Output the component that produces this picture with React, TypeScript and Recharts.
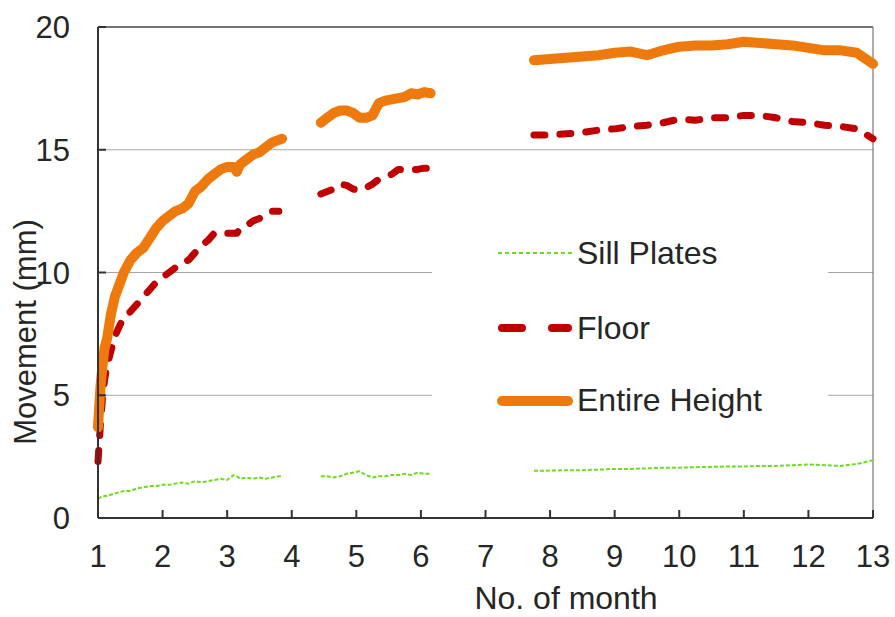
import React from 'react';
import { LineChart, Line, XAxis, YAxis, CartesianGrid, ReferenceLine, Label } from 'recharts';

// months where readings were taken (nulls split the three recording periods)
const months = [
  1, 1.02, 1.04, 1.07, 1.1, 1.14, 1.2, 1.26, 1.33, 1.4, 1.5, 1.6, 1.7, 1.8, 1.9,
  2.0, 2.1, 2.2, 2.3, 2.4, 2.5, 2.6, 2.7, 2.8, 2.9, 3.0, 3.1, 3.15, 3.2, 3.3, 3.4,
  3.5, 3.6, 3.7, 3.8, 3.85,
  4.1,
  4.45, 4.55, 4.65, 4.75, 4.85, 4.95, 5.05, 5.15, 5.25, 5.35, 5.45, 5.55, 5.65,
  5.75, 5.85, 5.95, 6.05, 6.15,
  7.0,
  7.75, 8.0, 8.25, 8.5, 8.75, 9.0, 9.25, 9.5, 9.75, 10.0, 10.25, 10.5, 10.75,
  11.0, 11.25, 11.5, 11.75, 12.0, 12.25, 12.5, 12.75, 13.0,
];

const sillPlates = [
  0.8, 0.8, 0.85, 0.85, 0.9, 0.9, 0.95, 1.0, 1.05, 1.1, 1.1, 1.2, 1.25, 1.3, 1.3,
  1.35, 1.35, 1.4, 1.45, 1.4, 1.5, 1.45, 1.5, 1.55, 1.6, 1.55, 1.75, 1.7, 1.6, 1.65, 1.6,
  1.65, 1.6, 1.65, 1.7, 1.7,
  null,
  1.7, 1.7, 1.65, 1.7, 1.8, 1.85, 1.9, 1.75, 1.65, 1.7, 1.7, 1.75, 1.75,
  1.8, 1.75, 1.85, 1.8, 1.8,
  null,
  1.92, 1.93, 1.95, 1.95, 1.97, 2.0, 2.0, 2.02, 2.05, 2.05, 2.07, 2.08, 2.1,
  2.1, 2.12, 2.12, 2.15, 2.18, 2.15, 2.12, 2.2, 2.35,
];

const floor = [
  2.3, 3.1, 3.9, 4.9, 5.6, 6.2, 6.8, 7.4, 7.8, 8.2, 8.4, 8.7, 9.0, 9.3, 9.6,
  9.8, 10.0, 10.2, 10.4, 10.5, 10.8, 11.1, 11.3, 11.6, 11.6, 11.6, 11.6, 11.6, 11.8, 11.9, 12.1,
  12.2, 12.4, 12.5, 12.5, null,
  null,
  13.2, 13.3, 13.4, 13.6, 13.55, 13.4, 13.35, 13.45, 13.6, 13.8, 13.9, 14.0, 14.2,
  14.2, 14.2, 14.2, 14.25, 14.25,
  null,
  15.6, 15.6, 15.65, 15.7, 15.8, 15.85, 15.95, 16.0, 16.1, 16.25, 16.2, 16.3, 16.3,
  16.4, 16.4, 16.3, 16.15, 16.1, 16.0, 15.95, 15.85, 15.45,
];

const entireHeight = [
  3.7, 4.6, 5.4, 6.2, 6.9, 7.3, 8.3, 9.0, 9.5, 10.0, 10.5, 10.8, 11.0, 11.4, 11.8,
  12.1, 12.3, 12.5, 12.6, 12.8, 13.3, 13.5, 13.8, 14.0, 14.2, 14.3, 14.3, 14.1, 14.4, 14.6, 14.8,
  14.9, 15.1, 15.3, 15.4, 15.45,
  null,
  16.1, 16.3, 16.5, 16.6, 16.6, 16.5, 16.3, 16.3, 16.4, 16.9, 17.0, 17.05, 17.1,
  17.15, 17.3, 17.25, 17.35, 17.3,
  null,
  18.65, 18.7, 18.75, 18.8, 18.85, 18.95, 19.0, 18.85, 19.05, 19.2, 19.25, 19.25, 19.3,
  19.4, 19.35, 19.3, 19.25, 19.15, 19.05, 19.05, 18.95, 18.5,
];

const monthTicks = [1, 2, 3, 4, 5, 6, 7, 8, 9, 10, 11, 12, 13];
const movementTicks = [0, 5, 10, 15, 20];

const data = months.map((m, i) => ({
  month: m,
  sill: sillPlates[i],
  floor: floor[i],
  entire: entireHeight[i],
}));

const FONT = '"Liberation Sans", Arial, sans-serif';
const TEXT = '#262626';

const LegendBox = () => (
  <div style={{ position: 'absolute', left: 432, top: 225, width: 396, height: 200, background: '#fff' }}>
    <svg width={396} height={200} style={{ fontFamily: FONT }}>
      <line x1={66} x2={140} y1={28} y2={28} stroke="#6EDC1E" strokeWidth={2} strokeDasharray="4 3" />
      <text x={145} y={28} fontSize={32} fill={TEXT} dominantBaseline="central">Sill Plates</text>
      <line x1={70} x2={136} y1={103} y2={103} stroke="#C00000" strokeWidth={8} strokeLinecap="round" strokeDasharray="20 30" />
      <text x={145} y={103} fontSize={32} fill={TEXT} dominantBaseline="central">Floor</text>
      <line x1={70} x2={136} y1={176} y2={176} stroke="#EE7A0E" strokeWidth={10} strokeLinecap="round" />
      <text x={145} y={175} fontSize={32} fill={TEXT} dominantBaseline="central">Entire Height</text>
    </svg>
  </div>
);

export default function App() {
  return (
    <div style={{ position: 'absolute', left: 0, top: 0, width: 895, height: 617, background: '#fff', fontFamily: FONT }}>
      <LineChart width={895} height={617} data={data} margin={{ top: 27, right: 22, left: 0, bottom: 0 }}>
        <CartesianGrid vertical={false} stroke="#a6a6a6" strokeWidth={1.2} />
        <ReferenceLine y={20} stroke="#555" strokeWidth={1.5} />
        <ReferenceLine x={13} stroke="#777" strokeWidth={1.2} />
        <XAxis
          dataKey="month"
          type="number"
          domain={[1, 13]}
          ticks={monthTicks}
          height={99}
          tickSize={-8}
          tickMargin={35}
          stroke="#333"
          strokeWidth={2}
          tick={{ fontSize: 31, fill: TEXT, fontFamily: FONT }}
        >
          <Label
            content={() => (
              <text x={566} y={609} textAnchor="middle" fontSize={32} fill={TEXT} fontFamily={FONT}>
                No. of month
              </text>
            )}
          />
        </XAxis>
        <YAxis
          type="number"
          domain={[0, 20]}
          ticks={movementTicks}
          width={98}
          tickSize={-8}
          tickMargin={36}
          stroke="#333"
          strokeWidth={2}
          tick={{ fontSize: 31, fill: TEXT, fontFamily: FONT }}
        >
          <Label
            content={() => (
              <text
                x={25}
                y={332}
                transform="rotate(-90, 25, 332)"
                textAnchor="middle"
                dominantBaseline="central"
                fontSize={31}
                fill={TEXT}
                fontFamily={FONT}
              >
                Movement (mm)
              </text>
            )}
          />
        </YAxis>
        <Line
          dataKey="sill"
          stroke="#6EDC1E"
          strokeWidth={2}
          strokeDasharray="4 2"
          dot={false}
          isAnimationActive={false}
        />
        <Line
          dataKey="floor"
          stroke="#C00000"
          strokeWidth={7}
          strokeDasharray="11 15"
          strokeLinecap="round"
          strokeLinejoin="round"
          dot={false}
          isAnimationActive={false}
        />
        <Line
          dataKey="entire"
          stroke="#EE7A0E"
          strokeWidth={10}
          strokeLinecap="round"
          strokeLinejoin="round"
          dot={false}
          isAnimationActive={false}
        />
      </LineChart>
      <LegendBox />
    </div>
  );
}
